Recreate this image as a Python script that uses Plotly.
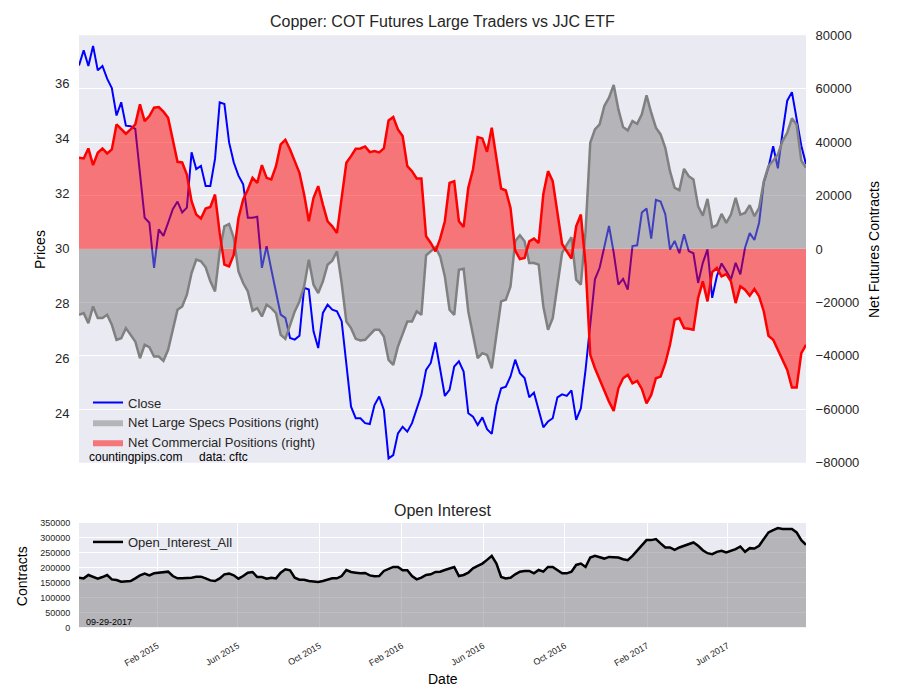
import pandas as pd
import plotly.graph_objects as go

# weekly COT report dates (Tuesdays)
dates = pd.date_range("2014-10-07", periods=156, freq="7D")

close = [36.64, 37.19, 36.62, 37.35, 36.46, 36.62, 36.16, 35.82, 34.82, 35.30,
         34.45, 34.43, 34.33, 32.63, 31.10, 30.92, 29.28, 30.68, 30.44, 30.92,
         31.41, 31.69, 31.29, 31.47, 33.48, 32.87, 32.99, 32.26, 32.26, 33.24,
         35.30, 35.24, 33.84, 33.11, 32.63, 32.32, 31.10, 31.10, 31.14, 29.28,
         30.07, 29.22, 28.37, 27.58, 27.46, 26.73, 26.67, 26.81, 28.55, 28.49,
         26.97, 26.36, 27.64, 27.94, 27.76, 27.70, 27.34, 25.75, 24.23, 23.81,
         23.81, 23.63, 23.60, 24.29, 24.60, 24.11, 22.35, 22.47, 23.26, 23.50,
         23.32, 23.63, 24.17, 24.66, 25.57, 25.82, 26.57, 25.57, 24.62, 24.84,
         25.69, 25.88, 25.51, 23.99, 23.87, 23.56, 23.84, 23.41, 23.24, 24.29,
         24.90, 24.96, 25.33, 25.94, 25.45, 25.27, 24.57, 24.74, 24.11, 23.48,
         23.69, 23.81, 24.57, 24.68, 24.62, 24.82, 23.75, 24.17, 25.57, 27.15,
         28.86, 29.28, 30.07, 30.80, 29.83, 28.67, 28.88, 28.49, 30.07, 30.10,
         31.29, 31.44, 30.34, 31.75, 31.69, 31.23, 29.95, 30.26, 29.81, 30.50,
         29.89, 29.81, 28.73, 29.46, 29.95, 28.19, 28.98, 29.44, 29.16, 28.86,
         29.46, 29.04, 30.01, 30.54, 30.29, 30.92, 32.38, 32.93, 33.70, 32.90,
         34.21, 35.36, 35.67, 34.70, 33.72, 33.05]

specs = [-24625, -24000, -27750, -21500, -25875, -25875, -24625, -28375, -34000, -33375,
         -29625, -32125, -34625, -40875, -35875, -36750, -40250, -40250, -41875, -37750,
         -29625, -22750, -21500, -17125, -9000, -4000, -4625, -6875, -12125, -15875,
         -875, 8500, 9375, 4125, -8375, -12750, -15875, -23125, -22125, -25250,
         -20875, -22125, -24000, -32125, -33625, -28375, -23375, -19625, -14000, -4000,
         -13375, -16500, -12125, -5875, -4375, -875, -12750, -27125, -29625, -33625,
         -34250, -34000, -32125, -30250, -30250, -32750, -41500, -43375, -36500, -32125,
         -27125, -27125, -23375, -24625, -2375, -875, 625, -2750, -10250, -22750,
         -24625, -7750, -7375, -23375, -32125, -40875, -39000, -39625, -44625, -32750,
         -19625, -19000, -14000, 2875, 5125, 2875, -5250, -5250, -5875, -21500,
         -30250, -25875, -13375, -1500, 1625, 4375, -11500, -13375, 6625, 39750,
         44750, 46625, 53500, 56625, 61375, 52250, 45625, 44375, 47875, 46875,
         50375, 57500, 51000, 45375, 42875, 37875, 29125, 22875, 22000, 30000,
         27250, 26000, 16000, 12500, 18750, 8125, 8875, 13125, 9750, 12875,
         19125, 12875, 13500, 16375, 12250, 15375, 25375, 31000, 33125, 35375,
         40375, 43500, 48875, 46625, 33125, 30375]

commercial = [34125, 33875, 37625, 31375, 36000, 37625, 35750, 37250, 46625, 44750,
              43125, 44750, 46625, 54125, 47875, 49750, 52875, 53125, 51375, 49125,
              41000, 32625, 32375, 27875, 17875, 12875, 11375, 15125, 15750, 20375,
              6000, -5875, -6500, -2125, 11625, 18500, 22250, 26625, 24750, 31375,
              26625, 26000, 31000, 39125, 40875, 37250, 32875, 28500, 20375, 10375,
              19125, 23500, 16625, 10375, 8500, 6000, 19125, 32250, 34750, 37500,
              37625, 38375, 36250, 36625, 36125, 37625, 48125, 49375, 44750, 42250,
              31000, 29125, 26375, 26375, 4750, 2250, -875, 3875, 10375, 24750,
              25375, 10375, 8250, 22875, 29750, 41875, 41375, 36375, 45375, 34125,
              22625, 21875, 15375, -625, -3750, -3375, 2875, 3875, 2250, 20625,
              29125, 25375, 13500, 1875, -875, -3625, 8500, 12875, -5875, -39625,
              -44625, -49000, -53375, -57125, -60625, -52125, -48375, -47125, -50250, -49375,
              -52375, -57750, -54625, -48375, -47750, -42750, -35875, -26500, -25875, -29625,
              -29875, -30250, -18375, -12125, -19625, -8625, -7125, -10250, -9375, -12125,
              -20250, -14000, -15250, -17500, -15000, -17750, -23375, -32500, -34000, -37750,
              -41500, -45250, -51875, -51875, -39000, -35875]

open_interest = [166600, 164300, 175600, 168800, 163200, 168800, 175600, 160900, 158700, 153100,
                 153100, 155300, 164300, 174400, 180100, 174400, 181200, 183400, 186800, 186800,
                 172200, 164300, 164300, 164300, 166600, 169900, 169900, 164300, 157600, 155300,
                 164300, 177800, 180100, 174400, 163200, 172200, 183400, 185700, 168800, 168800,
                 163200, 166600, 164300, 183400, 194700, 191300, 166600, 159800, 159800, 155300,
                 153100, 151900, 155300, 160900, 164300, 164300, 172200, 192400, 185700, 183400,
                 181200, 182300, 174400, 171100, 172200, 189100, 196900, 202600, 202600, 191300,
                 191300, 172200, 160900, 166600, 175600, 177800, 185700,
                 186800, 192400, 198100, 202600, 172200, 175600, 183400, 198100, 205900, 213800,
                 226200, 239700, 213800, 168800, 164300, 166600, 177800, 186800, 189100, 189100,
                 181200, 192400, 186800, 202600, 202600, 191300, 181200, 181200, 186800, 209300,
                 213800, 202600, 234100, 239700, 236300, 230700, 236300, 236300, 234100, 228500,
                 225100, 239700, 256600, 273500, 292600, 292600, 296000, 281400, 267800, 267800,
                 260000, 267800, 273500, 279100, 284700, 273500, 258800, 248700, 245300, 253200,
                 256600, 251000, 256600, 262200, 271200, 253200, 265600, 264500, 273500, 296000,
                 318500, 326400, 333100, 329700, 329700, 329700, 318500, 292600, 276800]

price_ticks = [24, 26, 28, 30, 32, 34, 36]
net_ticks = [-80000, -60000, -40000, -20000, 0, 20000, 40000, 60000, 80000]
oi_ticks = [0, 50000, 100000, 150000, 200000, 250000, 300000, 350000]
date_ticks = ["2015-02-01", "2015-06-01", "2015-10-01", "2016-02-01", "2016-06-01",
              "2016-10-01", "2017-02-01", "2017-06-01"]
date_labels = ["Feb 2015", "Jun 2015", "Oct 2015", "Feb 2016", "Jun 2016",
               "Oct 2016", "Feb 2017", "Jun 2017"]

W, H = 900, 700
FONT = "Liberation Sans, Arial, sans-serif"
TXT = "#262626"
BG = "#EAEAF2"

def px(x):
    return x / W

def py(y):
    # target pixel row -> paper fraction (compensates the capture offset/scale seen)
    return 1 - ((y - 7.9) / 0.975) / H

fig = go.Figure()

fig.add_trace(go.Scatter(x=dates, y=close, mode="lines", name="Close",
                         line=dict(color="rgb(0,0,255)", width=2),
                         xaxis="x", yaxis="y", legend="legend"))
fig.add_trace(go.Scatter(x=dates, y=specs, mode="lines", name="Net Large Specs Positions (right)",
                         fill="tozeroy", fillcolor="rgba(128,128,128,0.5)",
                         line=dict(color="rgba(128,128,128,0.5)", width=0),
                         xaxis="x", yaxis="y2", legend="legend"))
fig.add_trace(go.Scatter(x=dates, y=commercial, mode="lines", name="Net Commercial Positions (right)",
                         fill="tozeroy", fillcolor="rgba(255,0,0,0.5)",
                         line=dict(color="rgba(255,0,0,0.5)", width=0),
                         xaxis="x", yaxis="y2", legend="legend"))
fig.add_trace(go.Scatter(x=dates, y=specs, mode="lines", showlegend=False,
                         line=dict(color="rgb(128,128,128)", width=2.5),
                         xaxis="x", yaxis="y2"))
fig.add_trace(go.Scatter(x=dates, y=commercial, mode="lines", showlegend=False,
                         line=dict(color="rgb(255,0,0)", width=2.5),
                         xaxis="x", yaxis="y2"))

fig.add_trace(go.Scatter(x=dates, y=open_interest, mode="lines", showlegend=False,
                         fill="tozeroy", fillcolor="rgba(128,128,128,0.5)",
                         line=dict(width=0), xaxis="x2", yaxis="y3"))
fig.add_trace(go.Scatter(x=dates, y=open_interest, mode="lines", name="Open_Interest_All",
                         line=dict(color="black", width=2.5),
                         xaxis="x2", yaxis="y3", legend="legend2"))

xdom = [px(79), px(806)]
xrange = [dates[0], dates[-1]]

fig.update_layout(
    width=W, height=H,
    margin=dict(l=0, r=0, t=0, b=0),
    paper_bgcolor="white", plot_bgcolor=BG,
    font=dict(family=FONT, color=TXT),
    hovermode=False,
    xaxis=dict(domain=xdom, range=xrange, showticklabels=False, showgrid=False,
               zeroline=False, showline=False, anchor="y"),
    yaxis=dict(domain=[py(462), py(36)], range=[22.19, 37.74], tickvals=price_ticks,
               showgrid=False, zeroline=False, showline=False, ticks="outside",
               ticklen=6, tickcolor="rgba(0,0,0,0)", tickfont=dict(size=13, color=TXT),
               anchor="x"),
    yaxis2=dict(overlaying="y", side="right", range=[-80000, 80000], tickvals=net_ticks,
                tickformat="d",
                showgrid=True, gridcolor="white", gridwidth=1, zeroline=False,
                showline=False, ticks="outside", ticklen=6, tickcolor="rgba(0,0,0,0)",
                tickfont=dict(size=13, color=TXT), anchor="x"),
    xaxis2=dict(domain=xdom, range=xrange, tickvals=date_ticks, ticktext=date_labels,
                tickangle=-30, tickfont=dict(size=9, color=TXT), showgrid=True,
                gridcolor="white", gridwidth=1, zeroline=False, showline=False,
                ticks="outside", ticklen=9, tickcolor="rgba(0,0,0,0)",
                anchor="y3"),
    yaxis3=dict(domain=[py(626), py(522)], range=[0, 350000], tickvals=oi_ticks,
                tickformat="d",
                showgrid=True, gridcolor="white", gridwidth=1, zeroline=False,
                showline=False, ticks="outside", ticklen=6, tickcolor="rgba(0,0,0,0)",
                tickfont=dict(size=9, color=TXT), anchor="x2"),
    legend=dict(x=px(88), y=py(387), xanchor="left", yanchor="top",
                bgcolor="rgba(0,0,0,0)", font=dict(size=13, color=TXT),
                tracegroupgap=0),
    legend2=dict(x=px(88), y=py(526), xanchor="left", yanchor="top",
                 bgcolor="rgba(0,0,0,0)", font=dict(size=13, color=TXT)),
)

annotations = [
    dict(text="Copper: COT Futures Large Traders vs JJC ETF", x=px(442.5), y=py(22),
         font=dict(size=16, color=TXT)),
    dict(text="Open Interest", x=px(442.5), y=py(510), font=dict(size=16, color=TXT)),
    dict(text="countingpips.com     data: cftc", x=px(87), y=py(456), xanchor="left",
         font=dict(size=12, color="black")),
    dict(text="09-29-2017", x=px(84), y=py(621), xanchor="left",
         font=dict(size=9, color="black")),
    dict(text="Prices", x=px(40), y=py(250), textangle=-90, font=dict(size=14, color="black")),
    dict(text="Net Futures Contracts", x=px(874), y=py(250), textangle=-90,
         font=dict(size=14, color="black")),
    dict(text="Contracts", x=px(22), y=py(575), textangle=-90, font=dict(size=14, color="black")),
    dict(text="Date", x=px(442.5), y=py(677), font=dict(size=14, color="black")),
]
for a in annotations:
    a.update(xref="paper", yref="paper", showarrow=False)
    a.setdefault("xanchor", "center")
    a.setdefault("yanchor", "middle")
fig.update_layout(annotations=annotations)

fig.write_html("out.html",
               config={"displayModeBar": False},
               post_script="document.body.style.margin='0';document.body.style.overflow='hidden';")
